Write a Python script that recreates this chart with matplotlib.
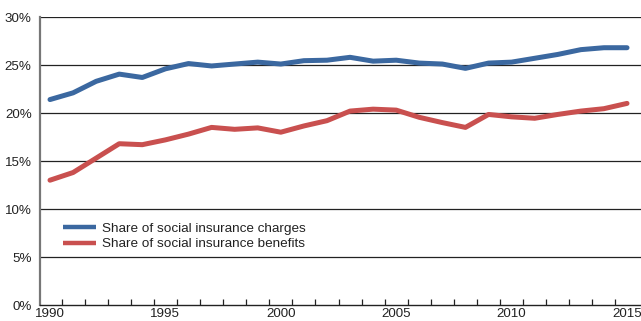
import matplotlib
matplotlib.use("Agg")
import matplotlib.pyplot as plt
from matplotlib import font_manager

years = list(range(1990, 2016))
charges = [21.4, 22.1, 23.3, 24.05, 23.7, 24.6, 25.15, 24.9, 25.1, 25.3, 25.1, 25.45, 25.5,
           25.8, 25.4, 25.5, 25.2, 25.1, 24.65, 25.2, 25.3, 25.7, 26.1, 26.6, 26.8, 26.8]
benefits = [13.0, 13.8, 15.3, 16.8, 16.7, 17.2, 17.8, 18.5, 18.3, 18.45, 18.0, 18.65, 19.2,
            20.2, 20.4, 20.3, 19.55, 19.0, 18.5, 19.85, 19.6, 19.45, 19.85, 20.2, 20.45, 21.0]
series_labels = ["Share of social insurance charges", "Share of social insurance benefits"]
yticks = [0, 5, 10, 15, 20, 25, 30]
xtick_years = [1990, 1995, 2000, 2005, 2010, 2015]

names = {f.name for f in font_manager.fontManager.ttflist}
fam = "Liberation Sans Narrow" if "Liberation Sans Narrow" in names else "Liberation Sans"
plt.rcParams["font.family"] = [fam, "DejaVu Sans"]

W, H = 641, 321
fig = plt.figure(figsize=(W / 100, H / 100), dpi=100)
ax = fig.add_axes([40 / W, (H - 305) / H, 601 / W, 288 / H])

blue = "#3b68a0"
red = "#c9504f"
ax.plot(years, charges, color=blue, lw=3.6, solid_capstyle="round", solid_joinstyle="round",
        label=series_labels[0], zorder=3)
ax.plot(years, benefits, color=red, lw=3.6, solid_capstyle="round", solid_joinstyle="round",
        label=series_labels[1], zorder=3)

ax.set_xlim(1989.567, 2015.606)
ax.set_ylim(0, 30)
ax.set_yticks(yticks)
ax.set_yticklabels([f"{v}%" for v in yticks], fontsize=9.6, color="#222222")
for v in yticks[1:]:
    ax.axhline(v, color="#222222", lw=0.9, zorder=1)

ax.set_xticks(xtick_years)
ax.set_xticklabels([str(y) for y in xtick_years], fontsize=9.6, color="#222222")
ax.tick_params(axis="x", which="major", length=0, pad=2.5)
ax.set_xticks([y + 0.5 for y in years[:-1]], minor=True)
ax.tick_params(axis="x", which="minor", direction="in", length=4.5, width=0.9, color="#222222")
ax.tick_params(axis="y", length=0, pad=6)

for s in ["top", "right"]:
    ax.spines[s].set_visible(False)
ax.spines["left"].set_color("#777777")
ax.spines["left"].set_linewidth(1.6)
ax.spines["bottom"].set_color("#222222")
ax.spines["bottom"].set_linewidth(1.0)

leg = ax.legend(loc="upper left", bbox_to_anchor=(0.03, 0.305), frameon=False,
                fontsize=9.7, handlelength=2.45, handletextpad=0.45, labelspacing=0.22,
                borderaxespad=0)
for t in leg.get_texts():
    t.set_color("#222222")
for h in leg.legend_handles:
    h.set_linewidth(3.2)
    h.set_solid_capstyle("butt")

fig.savefig("out.png", dpi=100)
